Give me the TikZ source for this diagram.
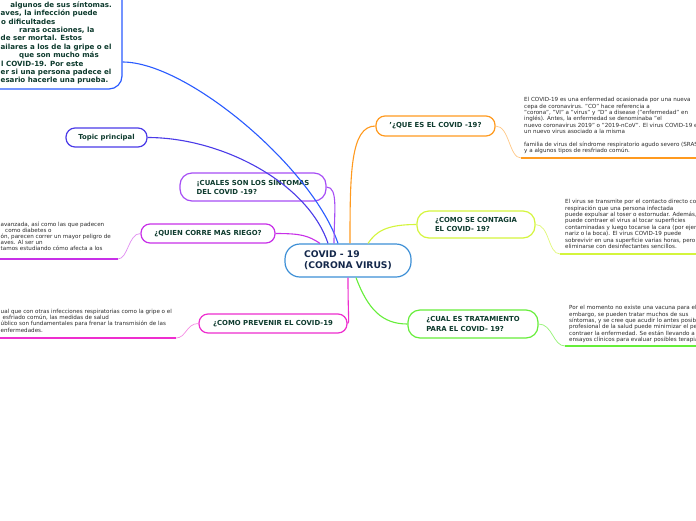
\documentclass[tikz,border=0pt]{standalone}
\usepackage{fontspec}
\setmainfont{DejaVu Sans}
\usetikzlibrary{calc}
\definecolor{cblue}{HTML}{2A5BFF}
\definecolor{ctopic}{HTML}{4B3BE8}
\definecolor{ccuales}{HTML}{A64DF5}
\definecolor{cquien}{HTML}{C830E8}
\definecolor{cprev}{HTML}{EE2ECF}
\definecolor{cque}{HTML}{FF9A1F}
\definecolor{ccont}{HTML}{D4F53C}
\definecolor{ccual}{HTML}{66EE3A}
\definecolor{ccentral}{HTML}{3D8FD6}
\definecolor{ntext}{HTML}{0E3B2E}
\definecolor{ctext}{HTML}{14284B}
\definecolor{stext}{HTML}{2B2B2B}
\tikzset{
  mnode/.style={draw, fill=white, line width=1.2pt, rounded corners=9pt, inner sep=0pt,
    font=\fontsize{6.9}{9.3}\selectfont\bfseries, text=ntext, align=left},
  bignote/.style={inner sep=0pt, font=\fontsize{7.1}{8}\selectfont\bfseries, text=ntext, anchor=base west},
  note/.style={inner sep=0pt, font=\fontsize{5.6}{6.4}\selectfont, text=stext, align=left},
  lnote/.style={inner sep=0pt, font=\fontsize{5.6}{6.4}\selectfont, text=stext, anchor=base west},
  conn/.style={line width=1.1pt},
  soft/.style={line width=0.7pt},
  uline/.style={line width=1.7pt},
}
\begin{document}
\begin{tikzpicture}[x=1pt,y=-1pt]
\useasboundingbox (0,0) rectangle (696,520);
\fill[white] (0,0) rectangle (696,520);

% ---------- nodes ----------
\node[mnode, draw=cblue, rounded corners=13pt, minimum width=152pt, minimum height=109pt] (tl) at (46,34.5) {};
\node[bignote, anchor=base east] (tl1) at (112,7.2) {algunos de sus síntomas.};
\node[bignote] (tl2) at (0.5,15.6) {aves, la  infección puede};
\node[bignote] (tl3) at (1,24.0) {o dificultades};
\node[bignote] (tl4) at (19,32.4) {raras ocasiones, la};
\node[bignote] (tl5) at (0.5,40.8) {de ser mortal. Estos};
\node[bignote] (tl6) at (0.5,49.2) {ailares a los de la gripe o el};
\node[bignote] (tl7) at (19,57.6) {que son mucho más};
\node[bignote] (tl8) at (1,66.0) {l COVID-19. Por este};
\node[bignote] (tl9) at (0.5,74.4) {er si una persona padece el};
\node[bignote] (tl10) at (0.5,82.8) {esario hacerle una prueba.};

\node[mnode, draw=ctopic, minimum width=81pt, minimum height=19pt] (topic) at (106.5,137.5) {Topic principal};
\node[mnode, draw=ccuales, rounded corners=12pt, minimum width=146pt, minimum height=28pt] (cuales) at (253,187) {¡CUALES SON LOS SÍNTOMAS\\ DEL COVID -19?};
\node[mnode, draw=cquien, minimum width=134pt, minimum height=19pt] (quien) at (208,233.5) {¿QUIEN CORRE MAS RIEGO?};
\node[mnode, draw=cprev, minimum width=148pt, minimum height=19pt] (prev) at (273,323.5) {¿COMO PREVENIR EL COVID-19};
\node[mnode, draw=ccentral, rounded corners=15pt, minimum width=126pt, minimum height=33pt,
      font=\fontsize{9.2}{11}\selectfont\bfseries, text=ctext] (central) at (348,260.5) {COVID - 19\\(CORONA VIRUS)};
\node[mnode, draw=cque, minimum width=119pt, minimum height=20pt] (quees) at (435.5,126) {'¿QUE ES EL COVID -19?};
\node[mnode, draw=ccont, rounded corners=12pt, minimum width=118pt, minimum height=27pt] (contagia) at (476,224.5) {¿COMO SE CONTAGIA\\EL COVID- 19?};
\node[mnode, draw=ccual, rounded corners=12pt, minimum width=130pt, minimum height=28pt] (cual) at (473,324) {¿CUAL ES TRATAMIENTO\\PARA EL COVID- 19?};

% ---------- side texts ----------
\node[note, anchor=north west] (qtxt) at (524,97.3) {El COVID-19 es una enfermedad ocasionada por una nueva\\
cepa de coronavirus. "CO" hace referencia a\\
"corona", "VI" a "virus" y "D" a disease ("enfermedad" en\\
inglés). Antes, la enfermedad se denominaba "el\\
nuevo coronavirus 2019" o "2019-nCoV". El virus COVID-19 es\\
un nuevo virus asociado a la misma\\[6.4pt]
familia de virus del síndrome respiratorio agudo severo (SRAS)\\
y a algunos tipos de resfriado común.};

\node[note, anchor=north west] (ctxt) at (565,199.3) {El virus se transmite por el contacto directo con\\
respiración que una persona infectada\\
puede expulsar al toser o estornudar. Además,\\
puede contraer el virus al tocar superficies\\
contaminadas y luego tocarse la cara (por ejemplo,\\
nariz o la boca). El virus COVID-19 puede\\
sobrevivir en una superficie varias horas, pero\\
eliminarse con desinfectantes sencillos.};

\node[note, anchor=north west] (ttxt) at (569,305.3) {Por el momento no existe una vacuna para el\\
embargo, se pueden tratar muchos de sus\\
síntomas, y se cree que acudir lo antes posible\\
profesional de la salud puede minimizar el peligro\\
contraer la enfermedad. Se están llevando a cabo\\
ensayos clínicos para evaluar posibles terapias.};

\node[lnote] (w1) at (0.5,226.5) {avanzada, así como las que padecen};
\node[lnote] (w2) at (5,232.5) {como diabetes o};
\node[lnote] (w3) at (0.5,238.5) {ón, parecen correr un mayor peligro de};
\node[lnote] (w4) at (0.5,244.5) {aves. Al ser un};
\node[lnote] (w5) at (0.5,250.5) {tamos estudiando cómo afecta a los};

\node[lnote] (p1) at (0.5,313.5) {ual que con otras infecciones respiratorias como la gripe o el};
\node[lnote] (p2) at (2.5,319.7) {esfriado común, las medidas de salud};
\node[lnote] (p3) at (0.5,325.9) {úblico son fundamentales para frenar la transmisión de las};
\node[lnote] (p4) at (0.5,332.1) {enfermedades.};

% ---------- connectors from centre ----------
\draw[conn, cblue] ([yshift=-27.5pt]tl.east) .. controls +(65,0) and +(-25,-75) .. ([xshift=-10pt]central.north);
\draw[conn, ctopic] (topic.east) .. controls +(75,0) and +(-20,-60) .. ([xshift=-20pt]central.north);
\draw[conn, ccuales] (cuales.east) .. controls +(12,0) and +(0,-30) .. ([xshift=-14pt]central.north);
\draw[conn, cquien] (quien.east) .. controls +(25,0) and +(-12,-8) .. ([xshift=-28pt]central.north);
\draw[conn, cque] (quees.west) .. controls +(-25,0) and +(0,-70) .. ([xshift=2pt]central.north);
\draw[conn, ccont] (contagia.west) .. controls +(-30,0) and +(8,-12) .. ([xshift=20pt]central.north);
\draw[conn, ccual] ([xshift=8pt]central.south) .. controls +(12,32) and +(-25,0) .. (cual.west);
\draw[conn, cprev] (central.south) .. controls +(0,40) and +(2,0) .. (prev.east);

% ---------- connectors to side texts ----------
\coordinate (qa) at (521,158); \coordinate (qb) at (696,158);
\draw[soft, cque!55] (quees.east) .. controls +(14,0) and +(-12,0) .. (qa);
\draw[uline, cque] (qa) -- (qb);
\coordinate (ca) at (560,254); \coordinate (cb) at (696,254);
\draw[soft, ccont!70] (contagia.east) .. controls +(14,0) and +(-12,0) .. (ca);
\draw[uline, ccont] (ca) -- (cb);
\coordinate (ta) at (565,346); \coordinate (tb) at (696,346);
\draw[soft, ccual!70] (cual.east) .. controls +(14,0) and +(-12,0) .. (ta);
\draw[uline, ccual] (ta) -- (tb);
\coordinate (wa) at (118,259); \coordinate (wb) at (0,259);
\draw[soft, cquien!55] (quien.west) .. controls +(-12,0) and +(10,0) .. (wa);
\draw[uline, cquien] (wa) -- (wb);
\coordinate (pa) at (176,338); \coordinate (pb) at (0,338);
\draw[soft, cprev!55] (prev.west) .. controls +(-12,0) and +(10,0) .. (pa);
\draw[uline, cprev] (pa) -- (pb);
\end{tikzpicture}
\end{document}
